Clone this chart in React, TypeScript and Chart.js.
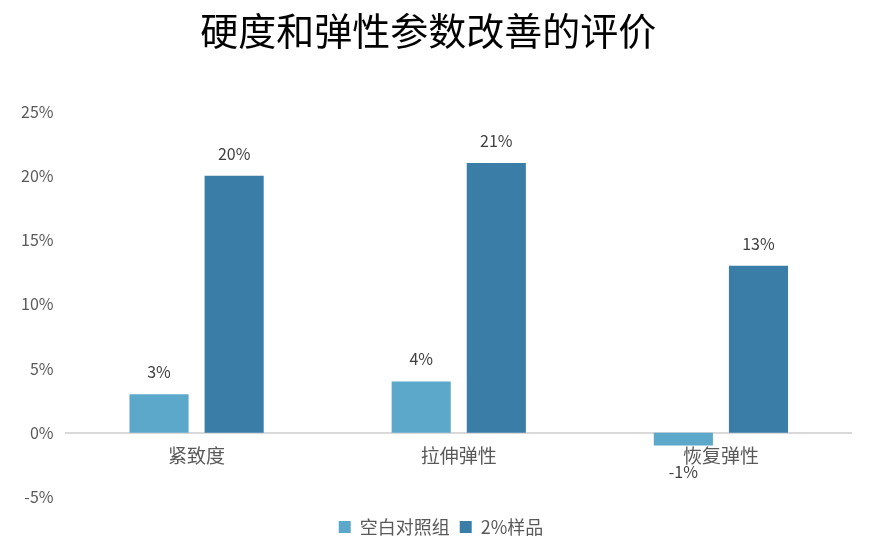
import React, { useEffect, useRef } from "react";
import { Chart, registerables } from "chart.js";

Chart.register(...registerables);

const categories = ["紧致度", "拉伸弹性", "恢复弹性"];
const controlValues = [3, 4, -1];
const sampleValues = [20, 21, 13];
const seriesNames = ["空白对照组", "2%样品"];
const titleText = "硬度和弹性参数改善的评价";

const FONT = "'Noto Sans CJK SC', 'Noto Sans', sans-serif";

const valueLabelPlugin = {
  id: "valueLabels",
  afterDatasetsDraw(chart: any) {
    const ctx = chart.ctx;
    ctx.save();
    ctx.font = `16px ${FONT}`;
    ctx.fillStyle = "#404040";
    ctx.textAlign = "center";
    ctx.textBaseline = "middle";
    chart.data.datasets.forEach((ds: any, i: number) => {
      const meta = chart.getDatasetMeta(i);
      meta.data.forEach((bar: any, j: number) => {
        const v = ds.data[j];
        const y = v >= 0 ? bar.y - 22 : bar.y + 26;
        ctx.fillText(v + "%", bar.x, y);
      });
    });
    ctx.restore();
  },
};

export default function App() {
  const ref = useRef<HTMLCanvasElement>(null);
  useEffect(() => {
    if (!ref.current) return;
    const chart = new Chart(ref.current, {
      type: "bar",
      data: {
        labels: categories,
        datasets: [
          {
            label: seriesNames[0],
            data: controlValues,
            backgroundColor: "#5BA8CB",
            categoryPercentage: 0.573,
            barPercentage: 0.787,
          },
          {
            label: seriesNames[1],
            data: sampleValues,
            backgroundColor: "#3A7EA8",
            categoryPercentage: 0.573,
            barPercentage: 0.787,
          },
        ],
      },
      plugins: [valueLabelPlugin],
      options: {
        animation: false,
        responsive: false,
        layout: { padding: { left: 9, right: 12, top: 8, bottom: 13 } },
        plugins: {
          title: {
            display: true,
            text: titleText + "   ",
            color: "#000000",
            font: { family: FONT, size: 38, weight: "normal" },
            padding: { top: 0, bottom: 58 },
          },
          legend: {
            position: "bottom",
            labels: {
              color: "#595959",
              font: { family: FONT, size: 18 },
              boxWidth: 12,
              boxHeight: 12,
              padding: 10,
            },
          },
          tooltip: { enabled: false },
        },
        scales: {
          x: {
            position: { y: 0 } as any,
            grid: { display: false },
            border: { display: false },
            ticks: {
              color: "#595959",
              font: { family: FONT, size: 19 },
              padding: 4,
            },
          },
          xSpacer: {
            type: "category",
            position: "bottom",
            grid: { display: false },
            border: { display: false },
            ticks: { display: false },
            afterFit: (s: any) => {
              s.height = 11;
            },
          } as any,
          ySpacer: {
            type: "linear",
            position: "right",
            grid: { display: false },
            border: { display: false },
            ticks: { display: false },
            afterFit: (s: any) => {
              s.width = 21;
            },
          } as any,
          y: {
            min: -5,
            max: 25,
            grid: {
              color: (c: any) => (c.tick && c.tick.value === 0 ? "#D9D9D9" : "rgba(0,0,0,0)"),
              lineWidth: 2,
              drawTicks: false,
            },
            border: { display: false },
            ticks: {
              stepSize: 5,
              color: "#595959",
              font: { family: FONT, size: 16 },
              padding: 12,
              callback: (v: any) => v + "%",
            },
          },
        },
      },
    });
    return () => chart.destroy();
  }, []);
  return (
    <div style={{ position: "absolute", left: 0, top: 0, width: 885, height: 559 }}>
      <canvas ref={ref} width={885} height={559} />
    </div>
  );
}
